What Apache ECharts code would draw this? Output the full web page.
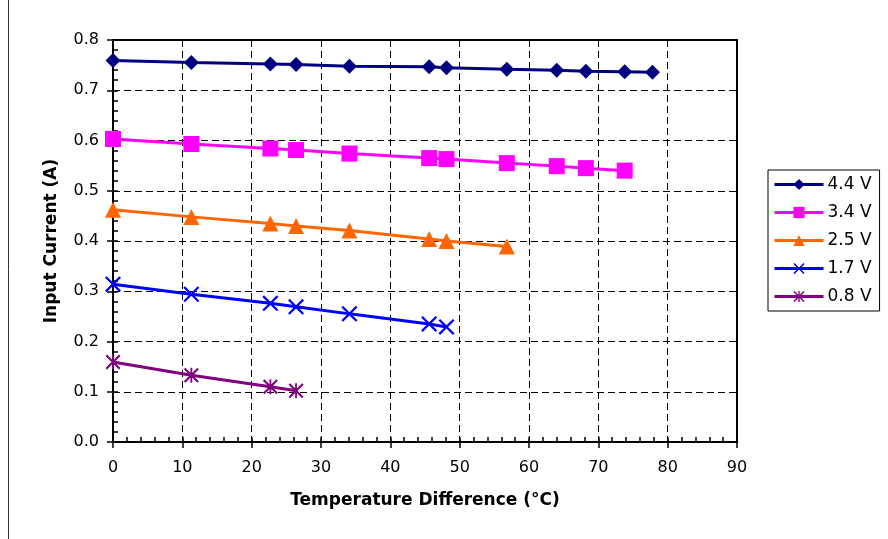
<!DOCTYPE html>
<html>
<head>
<meta charset="utf-8">
<script src="https://cdn.jsdelivr.net/npm/echarts@6/dist/echarts.min.js"></script>
<style>
html,body{margin:0;padding:0;background:#fff;}
#chart{width:888px;height:539px;}
</style>
</head>
<body>
<div id="chart"></div>
<script>
// Temperature difference (°C) shared by the series
const tempDiff = [0, 11.3, 22.7, 26.4, 34.1, 45.6, 48.1, 56.8, 64.0, 68.2, 73.8, 77.8];
// Input current (A) per supply voltage
const v44 = [0.759, 0.755, 0.752, 0.751, 0.748, 0.747, 0.745, 0.742, 0.740, 0.738, 0.737, 0.736];
const v34 = [0.603, 0.593, 0.584, 0.581, 0.574, 0.565, 0.563, 0.555, 0.549, 0.545, 0.540];
const v25 = [0.462, 0.448, 0.435, 0.430, 0.421, 0.404, 0.400, 0.389];
const v17 = [0.314, 0.294, 0.276, 0.269, 0.255, 0.235, 0.229];
const v08 = [0.159, 0.133, 0.110, 0.102];
const seriesNames = ['4.4 V', '3.4 V', '2.5 V', '1.7 V', '0.8 V'];
const xTicks = [0, 90, 10];
const yTicks = [0, 0.8, 0.1];

const FONT = 'DejaVu Sans';
const crossPath = 'path://M0,1L1,0L5,4L9,0L10,1L6,5L10,9L9,10L5,6L1,10L0,9L4,5Z';
const starPath = 'path://M0,1L1,0L5,4L9,0L10,1L6,5L10,9L9,10L5,6L1,10L0,9L4,5Z M4.4,0L5.6,0L5.6,10L4.4,10Z';

function pts(vals) { return vals.map((v, i) => [tempDiff[i], v]); }

const styles = [
  { color: '#000080', symbol: 'diamond', size: 15, data: v44 },
  { color: '#FF00FF', symbol: 'rect', size: 16, data: v34 },
  { color: '#FF6600', symbol: 'triangle', size: 16, data: v25 },
  { color: '#0000FF', symbol: crossPath, size: 16, data: v17 },
  { color: '#800080', symbol: starPath, size: 15, data: v08 }
];

const series = styles.map((s, i) => ({
  name: seriesNames[i],
  type: 'line',
  xAxisIndex: 0, yAxisIndex: 0,
  data: pts(s.data),
  symbol: s.symbol,
  symbolSize: s.size,
  showSymbol: true,
  lineStyle: { color: s.color, width: 3 },
  itemStyle: { color: s.color },
  emphasis: { disabled: true },
  animation: false
}));

const gridBox = { left: 113, right: 151, top: 40, bottom: 97 };
const dash = [7, 4];

const option = {
  animation: false,
  textStyle: { fontFamily: FONT },
  graphic: [{
    type: 'line', shape: { x1: 8.5, y1: 0, x2: 8.5, y2: 539 },
    style: { stroke: '#333', lineWidth: 1 }, silent: true
  }],
  grid: [
    Object.assign({ show: true, borderColor: '#000', borderWidth: 2, backgroundColor: 'transparent' }, gridBox),
    Object.assign({ show: false }, gridBox)
  ],
  legend: {
    orient: 'vertical',
    left: 768, top: 170,
    data: seriesNames,
    itemWidth: 49, itemHeight: 14,
    itemGap: 11,
    padding: [6, 8, 6, 5],
    borderColor: '#000', borderWidth: 1,
    backgroundColor: '#fff',
    lineStyle: { width: 3 },
    textStyle: { fontFamily: FONT, fontSize: 17, color: '#000', padding: [0, 0, 0, -1] },
    selectedMode: false
  },
  xAxis: [{
    type: 'value', gridIndex: 0,
    min: xTicks[0], max: xTicks[1], interval: xTicks[2],
    name: 'Temperature Difference (°C)',
    nameLocation: 'middle', nameGap: 50,
    nameTextStyle: { fontFamily: FONT, fontSize: 17, fontWeight: 'bold', color: '#000' },
    axisLine: { show: true, lineStyle: { color: '#000', width: 2 } },
    axisTick: { show: true, inside: false, length: 6, lineStyle: { color: '#000', width: 1.5 } },
    axisLabel: { fontFamily: FONT, fontSize: 16, color: '#000', margin: 18 },
    splitLine: { show: true, lineStyle: { color: '#000', width: 1, type: dash } }
  }, {
    type: 'value', gridIndex: 1,
    min: xTicks[0], max: xTicks[1], interval: xTicks[2],
    axisLine: { show: false },
    axisTick: { show: true, inside: true, length: 5, lineStyle: { color: '#000', width: 1.5 } },
    minorTick: { show: true, splitNumber: 5, length: 5, lineStyle: { color: '#000', width: 1.5 } },
    axisLabel: { show: false },
    splitLine: { show: false }
  }],
  yAxis: [{
    type: 'value', gridIndex: 0,
    min: yTicks[0], max: yTicks[1], interval: yTicks[2],
    name: 'Input Current (A)',
    nameLocation: 'middle', nameGap: 53, nameRotate: 90,
    nameTextStyle: { fontFamily: FONT, fontSize: 17, fontWeight: 'bold', color: '#000' },
    axisLine: { show: true, lineStyle: { color: '#000', width: 2 } },
    axisTick: { show: true, inside: false, length: 6, lineStyle: { color: '#000', width: 1.5 } },
    axisLabel: { fontFamily: FONT, fontSize: 16, color: '#000', margin: 14, formatter: v => v.toFixed(1) },
    splitLine: { show: true, lineStyle: { color: '#000', width: 1, type: dash } }
  }, {
    type: 'value', gridIndex: 1,
    min: yTicks[0], max: yTicks[1], interval: yTicks[2],
    axisLine: { show: false },
    axisTick: { show: true, inside: true, length: 5, lineStyle: { color: '#000', width: 1.5 } },
    minorTick: { show: true, splitNumber: 5, length: 5, lineStyle: { color: '#000', width: 1.5 } },
    axisLabel: { show: false },
    splitLine: { show: false }
  }],
  series: series
};

const chart = echarts.init(document.getElementById('chart'), null, { renderer: 'canvas' });
chart.setOption(option);
</script>
</body>
</html>
